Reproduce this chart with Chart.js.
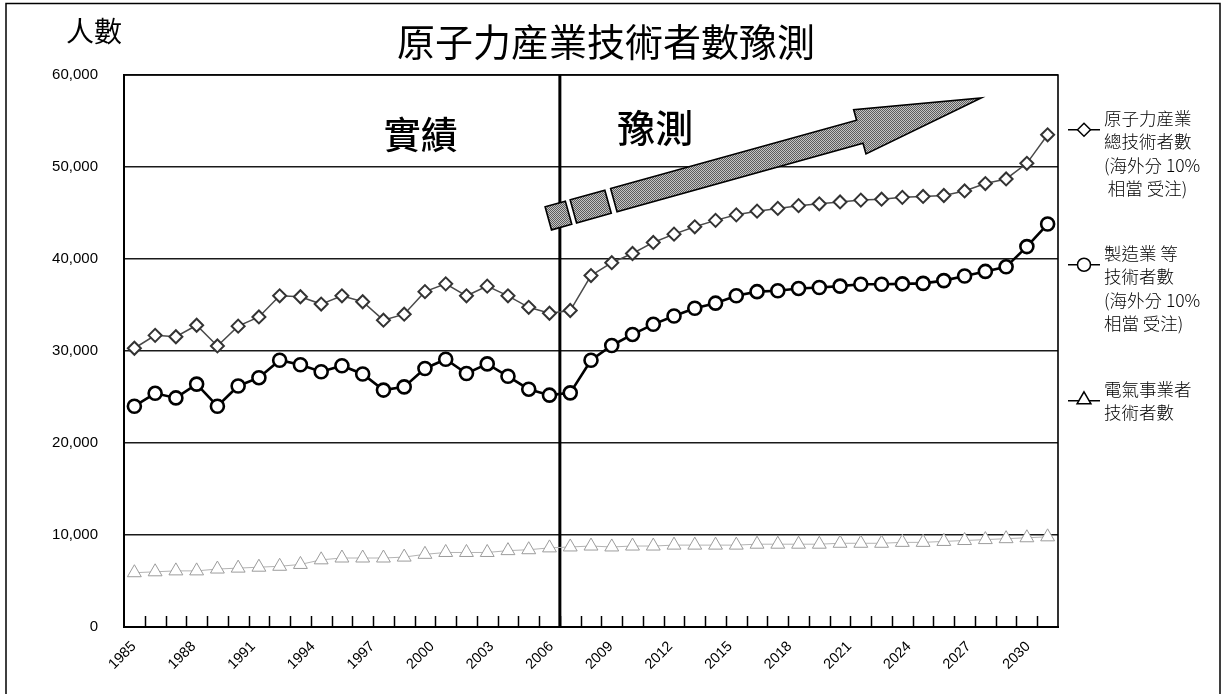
<!DOCTYPE html>
<html lang="zh-Hant">
<head>
<meta charset="utf-8">
<title>原子力産業技術者數豫測</title>
<script src="https://cdn.jsdelivr.net/npm/chart.js@4.4.1/dist/chart.umd.min.js"></script>
<style>
  html, body { margin: 0; padding: 0; background: #fff; }
  #wrap { position: relative; width: 1228px; height: 694px; }
  canvas { display: block; }
</style>
</head>
<body>
<div id="wrap"><canvas id="chart" width="1228" height="694"></canvas></div>
<script>
// ---- data -------------------------------------------------------------
// One category per plotted point.
const years = [
  '1985','1986','1987','1988','1989','1990','1991','1992','1993','1994',
  '1995','1996','1997','1998','1999','2000','2001','2002','2003','2004',
  '2005','2006','2007','2008','2009','2010','2011','2012','2013','2014',
  '2015','2016','2017','2018','2019','2020','2021','2022','2023','2024',
  '2025','2026','2027','2028','2029'
];
// First category that belongs to the forecast (豫測) part.
const firstForecastYear = '2006';

// Year labels printed under the axis.
const yearTicks = [1985, 1988, 1991, 1994, 1997, 2000, 2003, 2006,
                   2009, 2012, 2015, 2018, 2021, 2024, 2027, 2030];

// 原子力産業 總技術者數
const totalEngineers = [
  30300, 31700, 31550, 32800, 30550, 32700, 33700, 36000, 35900, 35100,
  36000, 35350, 33350, 34000, 36450, 37300, 36000, 37050, 36000, 34750,
  34100, 34400, 38200, 39600, 40600, 41800, 42700, 43500, 44200, 44800,
  45200, 45500, 45800, 46000, 46200, 46400, 46500, 46700, 46800, 46900,
  47400, 48200, 48700, 50400, 53500
];
// 製造業 等 技術者數
const manufacturingEngineers = [
  24000, 25400, 24900, 26400, 24000, 26200, 27100, 29000, 28500, 27750,
  28400, 27500, 25750, 26100, 28100, 29100, 27550, 28600, 27250, 25850,
  25200, 25450, 29000, 30600, 31800, 32900, 33800, 34650, 35200, 36000,
  36450, 36550, 36800, 36900, 37050, 37250, 37250, 37300, 37350, 37650,
  38150, 38650, 39150, 41350, 43800
];
// 電氣事業者 技術者數
const utilityEngineers = [
  5900, 6000, 6100, 6100, 6300, 6400, 6500, 6600, 6800, 7300,
  7500, 7500, 7500, 7600, 7900, 8100, 8100, 8100, 8300, 8400,
  8600, 8700, 8800, 8700, 8800, 8800, 8900, 8900, 8900, 8900,
  9000, 9000, 9000, 9000, 9100, 9100, 9100, 9200, 9200, 9300,
  9400, 9500, 9600, 9700, 9800
];

const seriesNames = [
  ['原子力産業', '總技術者數', '(海外分 10%', ' 相當 受注)'],
  ['製造業 等', '技術者數', '(海外分 10%', '相當 受注)'],
  ['電氣事業者', '技術者數']
];

const chartTitle = '原子力産業技術者數豫測';
const unitLabel = '人數';
const actualLabel = '實績';
const forecastLabel = '豫測';

// Trend arrow, given in data units (category index, value).
const trendFrom = { x: 23.1, y: 46400 };
const trendTo   = { x: 40.8, y: 57500 };

// ---- drawing helpers ---------------------------------------------------
const CJK = '"Noto Sans CJK JP", "Noto Sans CJK TC", sans-serif';
const LATIN = '"Liberation Sans", Arial, sans-serif';
const NARROW = '"Liberation Sans Narrow", "Arial Narrow", "Liberation Sans", sans-serif';

function markerPath(ctx, style, r, x, y) {
  ctx.beginPath();
  if (style === 'rectRot') {
    ctx.moveTo(x - r, y); ctx.lineTo(x, y - r); ctx.lineTo(x + r, y); ctx.lineTo(x, y + r);
    ctx.closePath();
  } else if (style === 'triangle') {
    const a = Math.PI * 2 / 3;
    for (let k = 0; k < 3; k++) {
      const px = x + Math.sin(k * a) * r, py = y - Math.cos(k * a) * r;
      k === 0 ? ctx.moveTo(px, py) : ctx.lineTo(px, py);
    }
    ctx.closePath();
  } else {
    ctx.arc(x, y, r, 0, Math.PI * 2);
  }
}

function ditherPattern(ctx) {
  const c = document.createElement('canvas');
  c.width = 2; c.height = 2;
  const p = c.getContext('2d');
  p.fillStyle = '#c4c4c4'; p.fillRect(0, 0, 2, 2);
  p.fillStyle = '#5c5c5c'; p.fillRect(0, 0, 1, 1); p.fillRect(1, 1, 1, 1);
  return ctx.createPattern(c, 'repeat');
}

function drawTrendArrow(chart) {
  const { ctx, scales: { x, y } } = chart;
  const sx = x.getPixelForValue(trendFrom.x), sy = y.getPixelForValue(trendFrom.y);
  const tx = x.getPixelForValue(trendTo.x),   ty = y.getPixelForValue(trendTo.y);
  const len = Math.hypot(tx - sx, ty - sy);
  const ux = (tx - sx) / len, uy = (ty - sy) / len;
  const nx = -uy, ny = ux;
  const shaft = 12, barb = 23, head = 126;
  const bx = tx - ux * head, by = ty - uy * head;
  const pt = (px, py, t, s) => [px + ux * t + nx * s, py + uy * t + ny * s];

  ctx.save();
  ctx.fillStyle = ditherPattern(ctx);
  ctx.strokeStyle = '#000';
  ctx.lineWidth = 1.6;
  ctx.lineJoin = 'miter';

  const poly = [
    pt(sx, sy, 0, -shaft), pt(bx, by, 0, -shaft), pt(bx, by, 0, -barb),
    [tx, ty],
    pt(bx, by, 0, barb), pt(bx, by, 0, shaft), pt(sx, sy, 0, shaft)
  ];
  ctx.beginPath();
  poly.forEach((p, i) => i ? ctx.lineTo(p[0], p[1]) : ctx.moveTo(p[0], p[1]));
  ctx.closePath(); ctx.fill(); ctx.stroke();

  // broken tail pieces behind the shaft
  [[-6, -42], [-47, -68]].forEach(([t0, t1]) => {
    const q = [pt(sx, sy, t0, -shaft), pt(sx, sy, t0, shaft), pt(sx, sy, t1, shaft), pt(sx, sy, t1, -shaft)];
    ctx.beginPath();
    q.forEach((p, i) => i ? ctx.lineTo(p[0], p[1]) : ctx.moveTo(p[0], p[1]));
    ctx.closePath(); ctx.fill(); ctx.stroke();
  });
  ctx.restore();
}

const decor = {
  id: 'decor',
  beforeDraw(chart) {
    const { ctx, width, height } = chart;
    ctx.save(); ctx.fillStyle = '#fff'; ctx.fillRect(0, 0, width, height); ctx.restore();
  },
  beforeDatasetsDraw(chart) {
    const { ctx, chartArea: a, scales: { x } } = chart;
    ctx.save();
    ctx.strokeStyle = '#000';
    ctx.lineWidth = 1.6;
    ctx.beginPath();
    ctx.moveTo(a.left, a.top); ctx.lineTo(a.right, a.top); ctx.lineTo(a.right, a.bottom);
    ctx.stroke();

    // tick marks pointing up into the plot on category boundaries
    ctx.lineWidth = 1.5;
    for (let i = 1; i < years.length; i++) {
      const px = Math.round(x.getPixelForValue(i - 0.5)) + 0.5;
      ctx.beginPath(); ctx.moveTo(px, a.bottom); ctx.lineTo(px, a.bottom - 11); ctx.stroke();
    }

    // divider between actual figures and forecast
    const sep = x.getPixelForValue(years.indexOf(firstForecastYear) - 0.5);
    ctx.lineWidth = 3;
    ctx.beginPath(); ctx.moveTo(sep, a.top); ctx.lineTo(sep, a.bottom); ctx.stroke();
    ctx.restore();
  },
  afterDatasetsDraw(chart) {
    const { ctx, scales: { x, y } } = chart;
    drawTrendArrow(chart);

    ctx.save();
    ctx.fillStyle = '#000';
    ctx.textAlign = 'center';
    ctx.textBaseline = 'middle';
    ctx.font = '500 37px ' + CJK;
    ctx.fillText(actualLabel, x.getPixelForValue(13.8), y.getPixelForValue(53500));
    ctx.font = '500 38px ' + CJK;
    ctx.fillText(forecastLabel, x.getPixelForValue(25.1), y.getPixelForValue(54300));
    ctx.restore();
  },
  afterDraw(chart) {
    const { ctx, height } = chart;
    ctx.save();
    ctx.fillStyle = '#000';
    ctx.textBaseline = 'middle';
    ctx.textAlign = 'center';
    ctx.font = '38px ' + CJK;
    ctx.fillText(chartTitle, 606, 42);
    ctx.font = '28px ' + CJK;
    ctx.fillText(unitLabel, 94, 31);

    // legend
    const groupTop = [118, 253, 389];
    const lineStep = 23.5;
    chart.data.datasets.forEach((ds, i) => {
      const lines = seriesNames[i];
      const top = groupTop[i];
      const my = top + lineStep / 2;
      ctx.strokeStyle = '#000';
      ctx.lineWidth = 1.5;
      ctx.beginPath(); ctx.moveTo(1068, my); ctx.lineTo(1100, my); ctx.stroke();
      ctx.fillStyle = '#fff';
      const r = ds.pointStyle === 'triangle' ? 8 : 6.5;
      markerPath(ctx, ds.pointStyle, r, 1084, ds.pointStyle === 'triangle' ? my - 1 : my);
      ctx.fill(); ctx.stroke();
      ctx.fillStyle = '#000';
      ctx.textAlign = 'left';
      ctx.font = '300 17.5px ' + CJK;
      lines.forEach((t, k) => ctx.fillText(t, 1104, top + k * lineStep));
    });

    // page frame
    ctx.strokeStyle = '#000';
    ctx.lineWidth = 1.5;
    ctx.beginPath();
    ctx.moveTo(6, height); ctx.lineTo(6, 3.5); ctx.lineTo(1220, 3.5); ctx.lineTo(1220, height);
    ctx.stroke();
    ctx.restore();
  }
};

new Chart(document.getElementById('chart').getContext('2d'), {
  type: 'line',
  data: {
    labels: years,
    datasets: [
      {
        label: seriesNames[0].join(''),
        data: totalEngineers,
        borderColor: '#4a4a4a', borderWidth: 1.5,
        pointStyle: 'rectRot', pointRadius: 6.5,
        pointBorderColor: '#333', pointBorderWidth: 2, pointBackgroundColor: '#fff',
        tension: 0
      },
      {
        label: seriesNames[1].join(''),
        data: manufacturingEngineers,
        borderColor: '#000', borderWidth: 2.6,
        pointStyle: 'circle', pointRadius: 6.5,
        pointBorderColor: '#000', pointBorderWidth: 2.6, pointBackgroundColor: '#fff',
        tension: 0
      },
      {
        label: seriesNames[2].join(''),
        data: utilityEngineers,
        borderColor: '#b4b4b4', borderWidth: 1,
        pointStyle: 'triangle', pointRadius: 8,
        pointBorderColor: '#9c9c9c', pointBorderWidth: 1, pointBackgroundColor: '#fff',
        tension: 0
      }
    ]
  },
  options: {
    responsive: false,
    animation: false,
    devicePixelRatio: 1,
    layout: { padding: { top: 75, right: 170, left: 0, bottom: 0 } },
    plugins: { legend: { display: false }, tooltip: { enabled: false }, title: { display: false } },
    scales: {
      x: { type: 'category', offset: true, display: false },
      yearAxis: {
        type: 'linear', position: 'bottom', min: 1984.5, max: 2031.5,
        grid: { display: false, drawTicks: false },
        border: { display: true, color: '#000', width: 2 },
        ticks: {
          autoSkip: false, minRotation: 45, maxRotation: 45, padding: 11,
          color: '#000', font: { family: NARROW, size: 14.5 },
          callback: v => String(v)
        },
        afterBuildTicks: s => { s.ticks = yearTicks.map(v => ({ value: v })); },
        afterFit: s => { s.height = 67; }
      },
      y: {
        min: 0, max: 60000,
        ticks: {
          stepSize: 10000, padding: 26, color: '#000',
          font: { family: LATIN, size: 15 },
          callback: v => Number(v).toLocaleString('en-US')
        },
        grid: { color: '#1a1a1a', lineWidth: 1.4, drawTicks: false },
        border: { display: true, color: '#000', width: 2 },
        afterFit: s => { s.width = 124; }
      }
    }
  },
  plugins: [decor]
});
</script>
</body>
</html>
